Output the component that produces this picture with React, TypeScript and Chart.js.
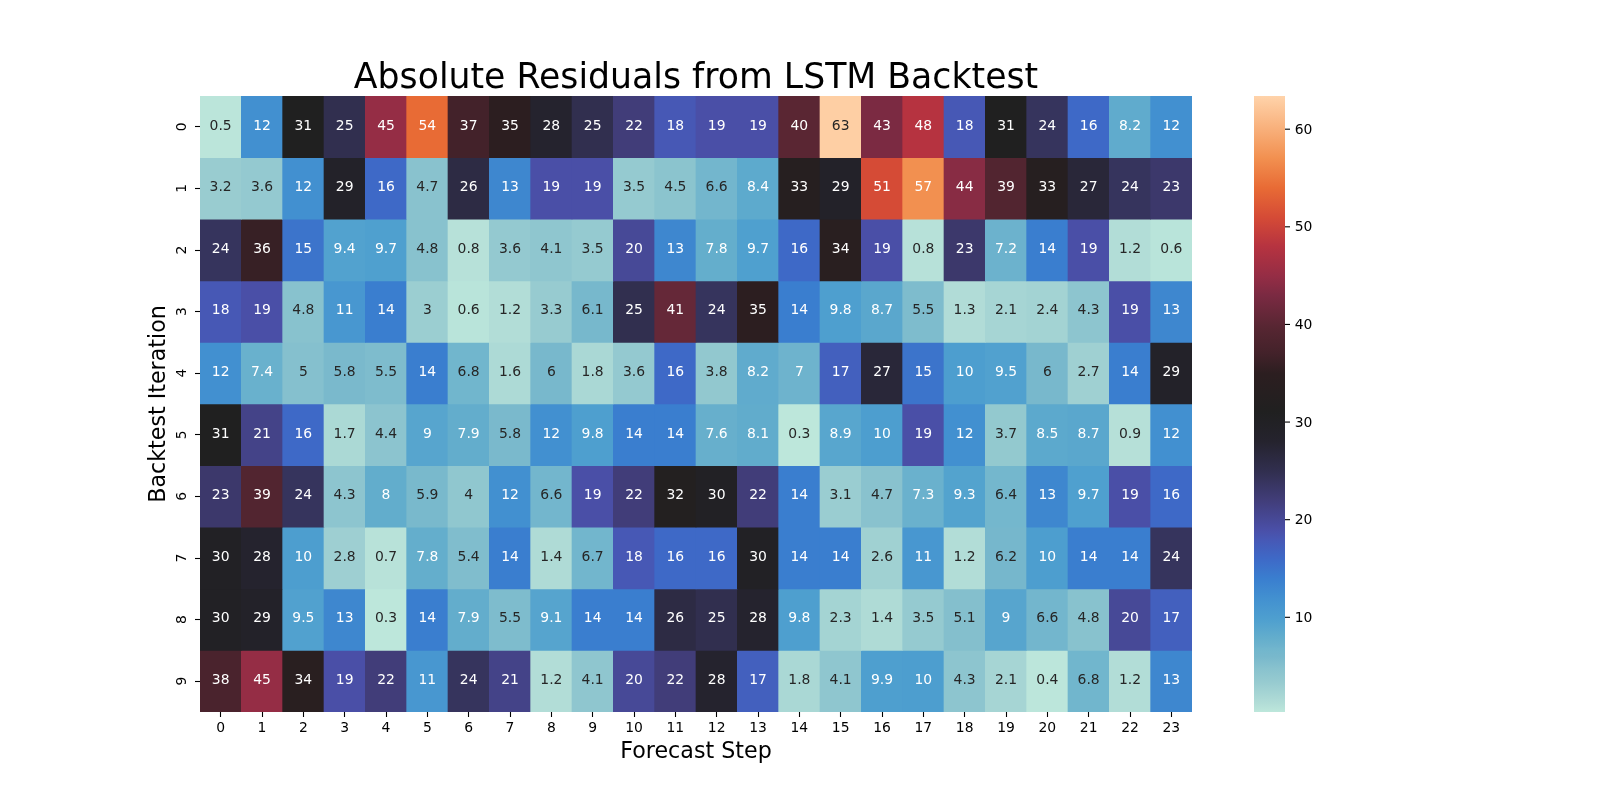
import { useEffect, useRef } from 'react';
import { Chart, registerables } from 'chart.js';

Chart.register(...registerables);

// forecast steps (columns) and backtest iterations (rows)
const forecastSteps = ['0', '1', '2', '3', '4', '5', '6', '7', '8', '9', '10', '11',
  '12', '13', '14', '15', '16', '17', '18', '19', '20', '21', '22', '23'];
const iterations = ['0', '1', '2', '3', '4', '5', '6', '7', '8', '9'];

// absolute residuals, one array per backtest iteration
const iteration0 = [0.5, 12, 31, 25, 45, 54, 37, 35, 28, 25, 22, 18, 19, 19, 40, 63, 43, 48, 18, 31, 24, 16, 8.2, 12];
const iteration1 = [3.2, 3.6, 12, 29, 16, 4.7, 26, 13, 19, 19, 3.5, 4.5, 6.6, 8.4, 33, 29, 51, 57, 44, 39, 33, 27, 24, 23];
const iteration2 = [24, 36, 15, 9.4, 9.7, 4.8, 0.8, 3.6, 4.1, 3.5, 20, 13, 7.8, 9.7, 16, 34, 19, 0.8, 23, 7.2, 14, 19, 1.2, 0.6];
const iteration3 = [18, 19, 4.8, 11, 14, 3, 0.6, 1.2, 3.3, 6.1, 25, 41, 24, 35, 14, 9.8, 8.7, 5.5, 1.3, 2.1, 2.4, 4.3, 19, 13];
const iteration4 = [12, 7.4, 5, 5.8, 5.5, 14, 6.8, 1.6, 6, 1.8, 3.6, 16, 3.8, 8.2, 7, 17, 27, 15, 10, 9.5, 6, 2.7, 14, 29];
const iteration5 = [31, 21, 16, 1.7, 4.4, 9, 7.9, 5.8, 12, 9.8, 14, 14, 7.6, 8.1, 0.3, 8.9, 10, 19, 12, 3.7, 8.5, 8.7, 0.9, 12];
const iteration6 = [23, 39, 24, 4.3, 8, 5.9, 4, 12, 6.6, 19, 22, 32, 30, 22, 14, 3.1, 4.7, 7.3, 9.3, 6.4, 13, 9.7, 19, 16];
const iteration7 = [30, 28, 10, 2.8, 0.7, 7.8, 5.4, 14, 1.4, 6.7, 18, 16, 16, 30, 14, 14, 2.6, 11, 1.2, 6.2, 10, 14, 14, 24];
const iteration8 = [30, 29, 9.5, 13, 0.3, 14, 7.9, 5.5, 9.1, 14, 14, 26, 25, 28, 9.8, 2.3, 1.4, 3.5, 5.1, 9, 6.6, 4.8, 20, 17];
const iteration9 = [38, 45, 34, 19, 22, 11, 24, 21, 1.2, 4.1, 20, 22, 28, 17, 1.8, 4.1, 9.9, 10, 4.3, 2.1, 0.4, 6.8, 1.2, 13];

const residualRows = [iteration0, iteration1, iteration2, iteration3, iteration4,
  iteration5, iteration6, iteration7, iteration8, iteration9];

// colour scale limits and colorbar ticks
const colorMin = 0.3;
const colorMax = 63.4;
const colorbarTicks = [10, 20, 30, 40, 50, 60];

// "icefire"-like colormap: [position 0..1, colour]
const cmapStops: [number, string][] = [
  [0.000, '#bde7db'], [0.014, '#b2ddd7'], [0.048, '#97cbd0'], [0.071, '#88c2ce'],
  [0.090, '#78b8cc'], [0.1030, '#71b6cd'], [0.1062, '#6eb3cd'], [0.119, '#64aecc'],
  [0.149, '#4fa0cf'], [0.185, '#4290d0'], [0.217, '#3a7ecf'], [0.249, '#3e69c7'],
  [0.280, '#4758b5'], [0.296, '#4a4fa7'], [0.344, '#413d79'], [0.391, '#312f4f'],
  [0.439, '#25232e'], [0.487, '#202020'], [0.550, '#2c1e20'], [0.582, '#43222a'],
  [0.625, '#572632'], [0.677, '#7b2a42'], [0.708, '#952d45'], [0.756, '#b63340'],
  [0.803, '#d54b36'], [0.851, '#e86b35'], [0.899, '#f29050'], [1.000, '#ffd3aa'],
];

const FONT = "'DejaVu Sans', sans-serif";

function hexToRgb(hex: string) {
  const n = parseInt(hex.slice(1), 16);
  return [(n >> 16) & 255, (n >> 8) & 255, n & 255];
}

function colorFor(v: number) {
  const t = Math.min(1, Math.max(0, (v - colorMin) / (colorMax - colorMin)));
  for (let i = 1; i < cmapStops.length; i++) {
    const [t1, c1] = cmapStops[i];
    if (t <= t1) {
      const [t0, c0] = cmapStops[i - 1];
      const f = (t - t0) / (t1 - t0);
      const a = hexToRgb(c0);
      const b = hexToRgb(c1);
      return a.map((x, k) => Math.round(x + (b[k] - x) * f));
    }
  }
  return hexToRgb(cmapStops[cmapStops.length - 1][1]);
}

function rgbString(rgb: number[]) {
  return `rgb(${rgb[0]}, ${rgb[1]}, ${rgb[2]})`;
}

// same rule seaborn uses to pick dark or white annotation text
function textColorFor(v: number) {
  const lin = colorFor(v).map((c) => {
    const s = c / 255;
    return s <= 0.03928 ? s / 12.92 : Math.pow((s + 0.055) / 1.055, 2.4);
  });
  const lum = 0.2126 * lin[0] + 0.7152 * lin[1] + 0.0722 * lin[2];
  return lum > 0.408 ? '#262626' : '#ffffff';
}

function formatG2(v: number) {
  return String(Number(v.toPrecision(2)));
}

const cellLabels = {
  id: 'cellLabels',
  afterDatasetsDraw(chart: any) {
    const ctx = chart.ctx;
    ctx.save();
    ctx.font = `13.9px ${FONT}`;
    ctx.textAlign = 'center';
    ctx.textBaseline = 'middle';
    residualRows.forEach((row, r) => {
      const meta = chart.getDatasetMeta(r);
      meta.data.forEach((bar: any, c: number) => {
        const { x, y, base } = bar.getProps(['x', 'y', 'base'], true);
        ctx.fillStyle = textColorFor(row[c]);
        ctx.fillText(formatG2(row[c]), x, (y + base) / 2 - 0.8);
      });
    });
    ctx.restore();
  },
};

const colorbar = {
  id: 'colorbar',
  afterDraw(chart: any) {
    const ctx = chart.ctx;
    const cb = chart.scales.cb;
    const yTop = cb.getPixelForValue(colorMax);
    const yBot = cb.getPixelForValue(colorMin);
    const x0 = chart.chartArea.right + 62;
    const w = 31;
    const grad = ctx.createLinearGradient(0, yBot, 0, yTop);
    cmapStops.forEach(([t, c]) => grad.addColorStop(t, c));
    ctx.save();
    ctx.fillStyle = grad;
    ctx.fillRect(x0, yTop, w, yBot - yTop);
    ctx.strokeStyle = '#000';
    ctx.lineWidth = 1.1;
    ctx.fillStyle = '#000';
    ctx.font = `13.9px ${FONT}`;
    ctx.textAlign = 'left';
    ctx.textBaseline = 'middle';
    colorbarTicks.forEach((v) => {
      const y = cb.getPixelForValue(v);
      ctx.beginPath();
      ctx.moveTo(x0 + w, y);
      ctx.lineTo(x0 + w + 5, y);
      ctx.stroke();
      ctx.fillText(String(v), x0 + w + 9.7, y + 1);
    });
    ctx.restore();
  },
};

export default function App() {
  const canvasRef = useRef<HTMLCanvasElement>(null);
  const chartRef = useRef<Chart | null>(null);

  useEffect(() => {
    if (!canvasRef.current) return;
    if (chartRef.current) chartRef.current.destroy();

    Chart.defaults.font.family = FONT;
    Chart.defaults.color = '#000';

    const datasets = residualRows.map((row, r) => ({
      label: `Iteration ${iterations[r]}`,
      data: row.map(() => [r, r + 1]),
      backgroundColor: row.map((v) => rgbString(colorFor(v))),
      borderWidth: 0,
      barPercentage: 1,
      categoryPercentage: 1,
      grouped: false,
      yAxisID: 'y',
    }));

    chartRef.current = new Chart(canvasRef.current, {
      type: 'bar',
      data: { labels: forecastSteps, datasets: datasets as any },
      options: {
        responsive: false,
        animation: false,
        events: [],
        layout: { padding: { left: 0, right: 408, top: 0, bottom: 0 } },
        plugins: {
          legend: { display: false },
          tooltip: { enabled: false },
          title: {
            display: true,
            fullSize: false,
            text: 'Absolute Residuals from LSTM Backtest',
            color: '#000',
            font: { size: 34.7, weight: 'normal', lineHeight: 1 },
            padding: { top: 61.15, bottom: 0.15 },
          },
        },
        scales: {
          x: {
            type: 'category',
            offset: true,
            border: { display: false },
            grid: { display: true, drawOnChartArea: false, offset: false, tickLength: 5, tickColor: '#000', tickWidth: 1.1 },
            ticks: { font: { size: 13.9 }, color: '#000', padding: 3, autoSkip: false, maxRotation: 0 },
            title: {
              display: true,
              text: 'Forecast Step',
              color: '#000',
              font: { size: 22.2 },
              padding: { top: 0, bottom: 34.8 },
            },
            afterFit: (scale: any) => { scale.height = 88; },
          },
          y: {
            type: 'linear',
            min: 0,
            max: 10,
            reverse: true,
            border: { display: false },
            grid: { display: true, drawOnChartArea: false, tickLength: 5, tickColor: '#000', tickWidth: 1.1 },
            afterBuildTicks: (scale: any) => {
              scale.ticks = iterations.map((_, i) => ({ value: i + 0.5 }));
            },
            ticks: {
              font: { size: 13.9 },
              color: '#000',
              minRotation: 90,
              maxRotation: 90,
              crossAlign: 'center',
              padding: 8.5,
              callback: (value: any) => iterations[Math.floor(Number(value))],
            },
            title: {
              display: true,
              text: 'Backtest Iteration',
              color: '#000',
              font: { size: 22.2 },
              padding: { top: 145.8, bottom: 0 },
            },
            afterFit: (scale: any) => { scale.width = 200; },
          },
          cb: {
            type: 'linear',
            position: 'right',
            display: false,
            min: colorMin,
            max: colorMax,
          },
        },
      } as any,
      plugins: [cellLabels, colorbar],
    });

    return () => {
      if (chartRef.current) {
        chartRef.current.destroy();
        chartRef.current = null;
      }
    };
  }, []);

  return (
    <div style={{ position: 'absolute', left: 0, top: 0, width: 1600, height: 800, background: '#fff' }}>
      <canvas ref={canvasRef} width={1600} height={800} />
    </div>
  );
}
